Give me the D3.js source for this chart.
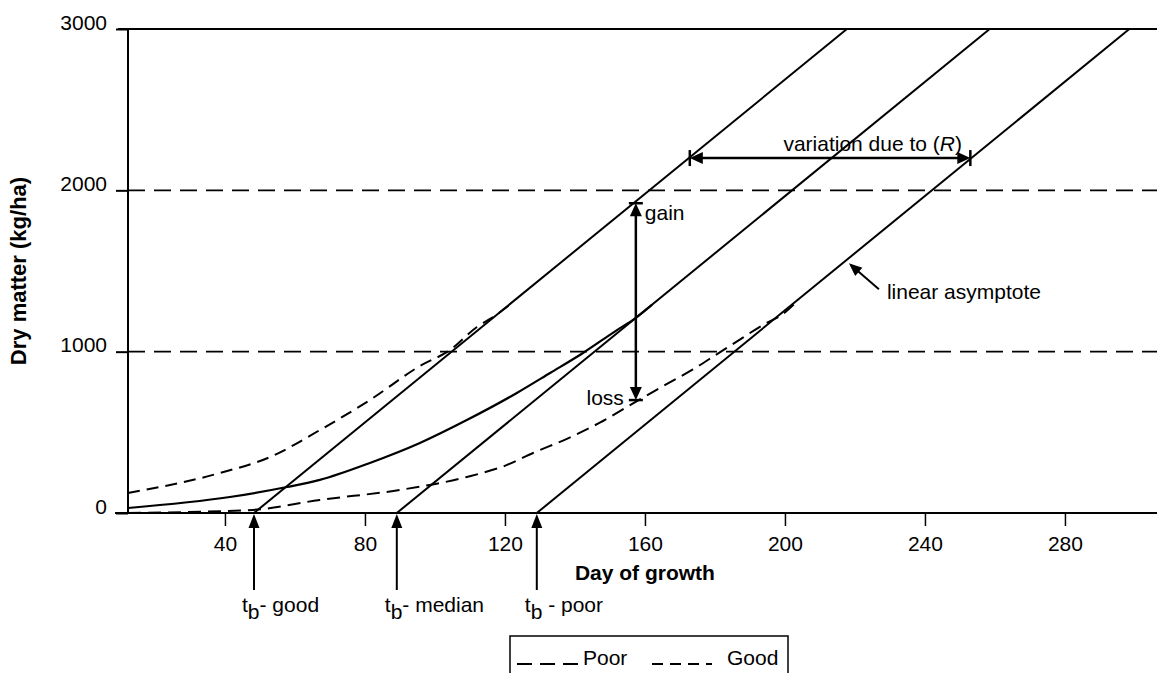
<!DOCTYPE html>
<html>
<head>
<meta charset="utf-8">
<script src="https://cdn.jsdelivr.net/npm/d3@7/dist/d3.min.js"></script>
<style>
  html, body { margin: 0; padding: 0; background: #fff; }
  svg { display: block; }
  text { font-family: "Liberation Sans", Arial, Helvetica, sans-serif; fill: #000; }
</style>
</head>
<body>
<svg id="chart" width="1157" height="673"></svg>
<script>
// Axis ticks
const dayTicks = [40, 80, 120, 160, 200, 240, 280];
const dmTicks = [0, 1000, 2000, 3000];
const gridLevels = [1000, 2000];

// Growth curves: [day of growth, dry matter kg/ha]
const goodCurve = [[12.3,124],[38.6,248],[52.9,347],[67.1,514],[81.4,700],[95.7,911],[104.3,1010],[112,1153],[116,1206],[122,1300]];
const medianCurve = [[12.3,31],[41.4,99],[57.7,161],[67.1,205],[81.4,310],[95.7,434],[109.1,576],[123.4,744],[132.9,868],[142.3,992],[152,1134],[157.1,1205],[162,1290]];
const poorCurve = [[12.3,0],[29.1,6],[48,19],[67.1,81],[90,143],[109.1,223],[120.6,298],[128,372],[137.7,460],[147.1,560],[156.6,680],[166.3,800],[173.7,890],[180.6,985],[187.1,1075],[194.9,1180],[198.6,1221],[204,1325]];

// Linear asymptotes: start at the base day t_b, end where they reach 3000 kg/ha
const asymptotes = {
  good:   [[48.3,0],[217.7,3000]],
  median: [[89.1,0],[258.5,3000]],
  poor:   [[129.1,0],[298.4,3000]]
};
const baseDays = [
  {key: "good",   label: "- good"},
  {key: "median", label: "- median"},
  {key: "poor",   label: " - poor"}
];

// Gain / loss span and the (R) variation level
const gainLossDay = 157.4;
const gainTop = 1920;
const lossBottom = 700;
const variationLevel = 2200;
const asymptoteLabelLevel = 1560;

const svg = d3.select("#chart");
const x = d3.scaleLinear().domain([12.3, 306.3]).range([128, 1157]);
const y = d3.scaleLinear().domain([0, 3000]).range([513, 29]);

const line = d3.line().x(d => x(d[0])).y(d => y(d[1]));
const smooth = d3.line().x(d => x(d[0])).y(d => y(d[1])).curve(d3.curveMonotoneX);

// day on an asymptote at a given dry matter level
function dayAt(seg, dm) {
  const [a, b] = seg;
  return a[0] + (dm - a[1]) * (b[0] - a[0]) / (b[1] - a[1]);
}

function head(g, tx, ty, angle, len = 14, half = 6) {
  // filled triangle with its tip at (tx,ty) pointing along angle (degrees)
  g.append("path")
    .attr("d", `M0,0 L${-len},${-half} L${-len},${half} Z`)
    .attr("transform", `translate(${tx},${ty}) rotate(${angle})`)
    .attr("fill", "#000");
}

// Dashed reference levels
svg.append("g").selectAll("line").data(gridLevels).join("line")
  .attr("x1", x.range()[0]).attr("x2", 1157)
  .attr("y1", d => y(d)).attr("y2", d => y(d))
  .attr("stroke", "#000").attr("stroke-width", 1.8)
  .attr("stroke-dasharray", "17,9");

// Top frame line
svg.append("line")
  .attr("x1", 118).attr("x2", 1157)
  .attr("y1", y(3000)).attr("y2", y(3000))
  .attr("stroke", "#000").attr("stroke-width", 2);

// Y axis
const yAxis = d3.axisLeft(y).tickValues(dmTicks).tickFormat(d3.format("d"))
  .tickSize(12).tickSizeOuter(0).tickPadding(9);
const gy = svg.append("g").attr("transform", `translate(${x.range()[0]},0)`).call(yAxis);
gy.select(".domain").remove();
gy.selectAll(".tick line").attr("stroke", "#000").attr("stroke-width", 2);
gy.selectAll(".tick text").attr("dy", "0").style("font-size", "21px")
  .style("font-family", "'Liberation Sans', Arial, sans-serif");
svg.append("line")
  .attr("x1", x.range()[0]).attr("x2", x.range()[0])
  .attr("y1", y(3000)).attr("y2", y(0))
  .attr("stroke", "#000").attr("stroke-width", 2);

// X axis
const xAxis = d3.axisBottom(x).tickValues(dayTicks).tickFormat(d3.format("d"))
  .tickSize(13).tickSizeOuter(0).tickPadding(10);
const gx = svg.append("g").attr("transform", `translate(0,${y(0)})`).call(xAxis);
gx.select(".domain").remove();
gx.selectAll(".tick line").attr("stroke", "#000").attr("stroke-width", 1.5);
gx.selectAll(".tick text").style("font-size", "21px")
  .style("font-family", "'Liberation Sans', Arial, sans-serif");
svg.append("line")
  .attr("x1", 115).attr("x2", 1157)
  .attr("y1", y(0)).attr("y2", y(0))
  .attr("stroke", "#000").attr("stroke-width", 2);

// Axis titles
svg.append("text")
  .attr("x", x(160)).attr("y", 580)
  .attr("text-anchor", "middle")
  .style("font-size", "21px").style("font-weight", "bold")
  .text("Day of growth");
svg.append("text")
  .attr("transform", `translate(26,${y(1500)}) rotate(-90)`)
  .attr("text-anchor", "middle")
  .style("font-size", "22px").style("font-weight", "bold")
  .text("Dry matter (kg/ha)");

// Asymptotes
const plot = svg.append("g");
Object.values(asymptotes).forEach(seg => {
  plot.append("path").attr("d", line(seg))
    .attr("fill", "none").attr("stroke", "#000").attr("stroke-width", 2);
});

// Growth curves
plot.append("path").attr("d", smooth(medianCurve))
  .attr("fill", "none").attr("stroke", "#000").attr("stroke-width", 2.2);
plot.append("path").attr("d", smooth(goodCurve))
  .attr("fill", "none").attr("stroke", "#000").attr("stroke-width", 2)
  .attr("stroke-dasharray", "12,7");
plot.append("path").attr("d", smooth(poorCurve))
  .attr("fill", "none").attr("stroke", "#000").attr("stroke-width", 2)
  .attr("stroke-dasharray", "13,7");

// t_b arrows and labels
const ann = svg.append("g");
baseDays.forEach(b => {
  const px = x(asymptotes[b.key][0][0]);
  ann.append("line")
    .attr("x1", px).attr("x2", px)
    .attr("y1", 590).attr("y2", y(0) + 12)
    .attr("stroke", "#000").attr("stroke-width", 2);
  head(ann, px, y(0) + 1, -90, 14, 5.5);
  const t = ann.append("text")
    .attr("x", px - 12).attr("y", 612)
    .style("font-size", "21px");
  t.append("tspan").text("t");
  t.append("tspan").attr("dy", 7).text("b");
  t.append("tspan").attr("dy", -7).text(b.label);
});

// Gain / loss double arrow
const gx0 = x(gainLossDay);
ann.append("line")
  .attr("x1", gx0).attr("x2", gx0)
  .attr("y1", y(gainTop) + 10).attr("y2", y(lossBottom) - 10)
  .attr("stroke", "#000").attr("stroke-width", 2.5);
head(ann, gx0, y(gainTop), -90, 13, 6);
head(ann, gx0, y(lossBottom), 90, 13, 6);
[gainTop, lossBottom].forEach(v => {
  ann.append("line")
    .attr("x1", gx0 - 7).attr("x2", gx0 + 7)
    .attr("y1", y(v)).attr("y2", y(v))
    .attr("stroke", "#000").attr("stroke-width", 2.5);
});
ann.append("text").attr("x", gx0 + 9).attr("y", y(gainTop) + 17)
  .style("font-size", "21px").text("gain");
ann.append("text").attr("x", gx0 - 12).attr("y", y(lossBottom) + 5)
  .attr("text-anchor", "end")
  .style("font-size", "21px").text("loss");

// Variation due to (R): span between good and poor asymptotes
const vx1 = x(dayAt(asymptotes.good, variationLevel));
const vx2 = x(dayAt(asymptotes.poor, variationLevel));
const vy = y(variationLevel);
ann.append("line")
  .attr("x1", vx1 + 10).attr("x2", vx2 - 10)
  .attr("y1", vy).attr("y2", vy)
  .attr("stroke", "#000").attr("stroke-width", 2.5);
head(ann, vx1 + 1, vy, 180, 13, 6);
head(ann, vx2 - 1, vy, 0, 13, 6);
[vx1 + 1, vx2 - 1].forEach(px => {
  ann.append("line")
    .attr("x1", px).attr("x2", px)
    .attr("y1", vy - 8).attr("y2", vy + 8)
    .attr("stroke", "#000").attr("stroke-width", 2.5);
});
const vt = ann.append("text").attr("x", 962).attr("y", vy - 7)
  .attr("text-anchor", "end").style("font-size", "21px");
vt.append("tspan").text("variation due to (");
vt.append("tspan").style("font-style", "italic").text("R");
vt.append("tspan").text(")");

// Linear asymptote pointer
const lax = x(dayAt(asymptotes.poor, asymptoteLabelLevel)) + 4;
const lay = y(asymptoteLabelLevel) + 2;
ann.append("line")
  .attr("x1", lax + 8).attr("y1", lay + 7)
  .attr("x2", lax + 30).attr("y2", lay + 26)
  .attr("stroke", "#000").attr("stroke-width", 2);
head(ann, lax, lay, Math.atan2(-19, -22) * 180 / Math.PI, 13, 5.5);
ann.append("text").attr("x", lax + 38).attr("y", lay + 36)
  .style("font-size", "21px").text("linear asymptote");

// Legend
const lg = svg.append("g");
lg.append("rect")
  .attr("x", 510).attr("y", 636).attr("width", 278).attr("height", 60)
  .attr("fill", "#fff").attr("stroke", "#000").attr("stroke-width", 1.5);
lg.append("line")
  .attr("x1", 517).attr("x2", 582).attr("y1", 664).attr("y2", 664)
  .attr("stroke", "#000").attr("stroke-width", 2).attr("stroke-dasharray", "15,8");
lg.append("text").attr("x", 583).attr("y", 665).style("font-size", "21px").text("Poor");
lg.append("line")
  .attr("x1", 652).attr("x2", 712).attr("y1", 664).attr("y2", 664)
  .attr("stroke", "#000").attr("stroke-width", 2).attr("stroke-dasharray", "11,7");
lg.append("text").attr("x", 727).attr("y", 665).style("font-size", "21px").text("Good");
</script>
</body>
</html>
